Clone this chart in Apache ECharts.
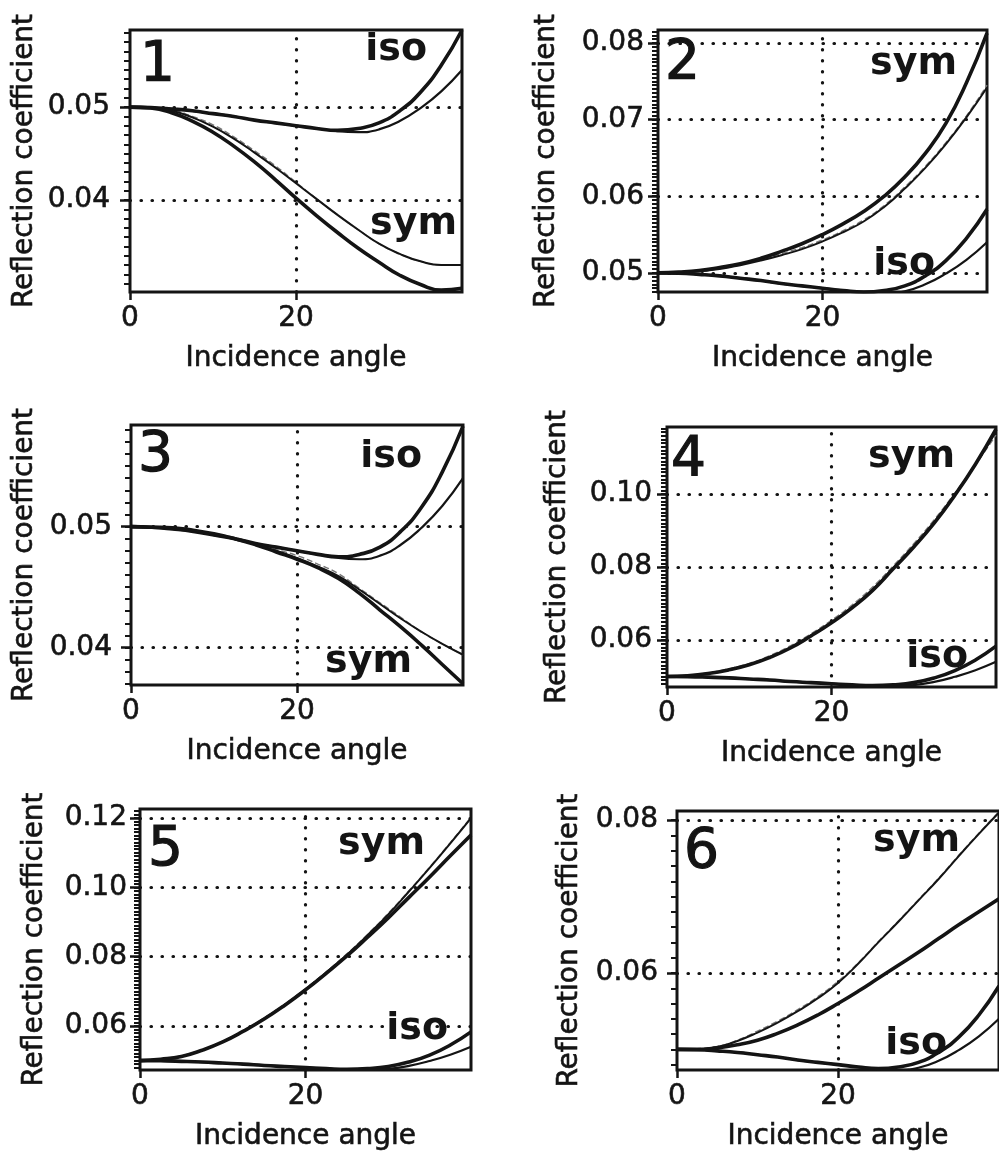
<!DOCTYPE html>
<html>
<head>
<meta charset="utf-8">
<script src="https://cdn.jsdelivr.net/npm/echarts@6/dist/echarts.min.js"></script>
<style>
  html, body { margin: 0; padding: 0; background: #fff; }
  #chart { width: 999px; height: 1155px; }
</style>
</head>
<body>
<div id="chart"></div>
<script>
// Incidence angles (degrees) at which every curve is sampled
const angles = [0, 2.5, 5, 7.5, 10, 12.5, 15, 17.5, 20, 22.5, 25, 27.5, 30, 32.5, 35, 37.5, 40];

// Isotropic reference curves (same in every panel)
const isoThick = [0.0500, 0.04995, 0.0498, 0.0496, 0.0493, 0.0490, 0.0486, 0.0483, 0.0480, 0.0477, 0.0475, 0.0477, 0.0483, 0.0496, 0.0516, 0.0545, 0.0583];
const isoThin  = [0.0500, 0.04995, 0.0498, 0.0496, 0.0493, 0.0490, 0.0486, 0.0483, 0.0480, 0.0477, 0.0474, 0.0473, 0.0476, 0.0485, 0.0499, 0.0517, 0.0540];

// Symmetry-axis curves, panel by panel
const sym1Thick = [0.0500, 0.0499, 0.0494, 0.0485, 0.0473, 0.0458, 0.0441, 0.0422, 0.0402, 0.0383, 0.0365, 0.0348, 0.0333, 0.0319, 0.0309, 0.0303, 0.0305];
const sym1Thin  = [0.0500, 0.0499, 0.0496, 0.0489, 0.0479, 0.0466, 0.0451, 0.0435, 0.0418, 0.0401, 0.0384, 0.0368, 0.0353, 0.0342, 0.0334, 0.0330, 0.0330];
const sym1Dash  = [0.0500, 0.0499, 0.0497, 0.0490, 0.0481, 0.0468, 0.0453, 0.0437, 0.0419, 0.0401, 0.0384, 0.0368, 0.0353, 0.0342, 0.0334, 0.0330, 0.0330];

const sym2Thick = [0.0500, 0.0501, 0.0503, 0.0507, 0.0512, 0.0519, 0.0528, 0.0538, 0.0550, 0.0564, 0.0580, 0.0600, 0.0625, 0.0656, 0.0695, 0.0748, 0.0813];
const sym2Thin  = [0.0500, 0.0501, 0.0502, 0.0505, 0.0510, 0.0516, 0.0523, 0.0531, 0.0541, 0.0553, 0.0567, 0.0586, 0.0610, 0.0637, 0.0668, 0.0703, 0.0742];
const sym2Dash  = [0.0500, 0.0501, 0.0502, 0.0506, 0.0511, 0.0517, 0.0525, 0.0533, 0.0543, 0.0555, 0.0569, 0.0588, 0.0612, 0.0639, 0.0670, 0.0705, 0.0745];

const sym3Thick = [0.0500, 0.04995, 0.0499, 0.0497, 0.0494, 0.0490, 0.0485, 0.0479, 0.0473, 0.0466, 0.0457, 0.0445, 0.0431, 0.0417, 0.0402, 0.0386, 0.0370];
const sym3Thin  = [0.0500, 0.04995, 0.0499, 0.0497, 0.0494, 0.0490, 0.0485, 0.0480, 0.0474, 0.0467, 0.0459, 0.0448, 0.0436, 0.0424, 0.0413, 0.0403, 0.0394];
const sym3Dash  = [0.0500, 0.04995, 0.0499, 0.0497, 0.0494, 0.0491, 0.0486, 0.0481, 0.0476, 0.0469, 0.0461, 0.0449, 0.0437, 0.0425, 0.0413, 0.0403, 0.0394];

const sym4Thick = [0.0500, 0.0502, 0.0508, 0.0518, 0.0532, 0.0552, 0.0578, 0.0611, 0.0647, 0.0688, 0.0736, 0.0795, 0.0855, 0.0921, 0.0997, 0.1082, 0.1178];
const sym4Thin  = [0.0500, 0.0502, 0.0508, 0.0519, 0.0533, 0.0553, 0.0579, 0.0612, 0.0648, 0.0690, 0.0738, 0.0797, 0.0858, 0.0924, 0.0999, 0.1081, 0.1172];
const sym4Dash  = [0.0500, 0.0503, 0.0510, 0.0521, 0.0536, 0.0557, 0.0584, 0.0617, 0.0654, 0.0696, 0.0745, 0.0803, 0.0864, 0.0930, 0.1003, 0.1080, 0.1162];

const sym5Thick = [0.0500, 0.0504, 0.0512, 0.0530, 0.0554, 0.0585, 0.0620, 0.0660, 0.0704, 0.0752, 0.0802, 0.0856, 0.0912, 0.0971, 0.1030, 0.1091, 0.1151];
const sym5Thin  = [0.0500, 0.0504, 0.0512, 0.0530, 0.0554, 0.0585, 0.0621, 0.0661, 0.0706, 0.0754, 0.0805, 0.0862, 0.0922, 0.0988, 0.1056, 0.1127, 0.1200];
const sym5Dash  = [0.0500, 0.0505, 0.0514, 0.0532, 0.0556, 0.0587, 0.0623, 0.0663, 0.0708, 0.0756, 0.0808, 0.0864, 0.0925, 0.0990, 0.1058, 0.1129, 0.1202];

const sym6Thick = [0.0500, 0.0500, 0.0502, 0.0506, 0.0512, 0.0521, 0.0532, 0.0545, 0.0560, 0.0576, 0.0593, 0.0610, 0.0627, 0.0645, 0.0663, 0.0680, 0.0697];
const sym6Thin  = [0.0500, 0.0500, 0.0503, 0.0511, 0.0522, 0.0535, 0.0550, 0.0567, 0.0587, 0.0612, 0.0640, 0.0667, 0.0695, 0.0723, 0.0753, 0.0782, 0.0810];
const sym6Dash  = [0.0500, 0.0501, 0.0504, 0.0512, 0.0524, 0.0537, 0.0552, 0.0569, 0.0589, 0.0613, 0.0641, 0.0668, 0.0696, 0.0724, 0.0754, 0.0783, 0.0811];

// Tick values
const xTickLabels = [0, 20];
const yTicks1 = [0.04, 0.05];
const yTicks2 = [0.05, 0.06, 0.07, 0.08];
const yTicks3 = [0.04, 0.05];
const yTicks4 = [0.06, 0.08, 0.10];
const yTicks5 = [0.06, 0.08, 0.10, 0.12];
const yTicks6 = [0.06, 0.08];

const INK = '#141414';
const FONT = 'DejaVu Sans';

// Panel layout and axis extents
const panels = [
  { left: 130, top: 30,  width: 332, height: 262, yMin: 0.0301, yMax: 0.0583, ticks: yTicks1, minor: 0.001,  margin: 20, nameGap: 91,
    sym: [sym1Thick, sym1Thin, sym1Dash], num: '1', numPos: [140, 85], isoPos: [427, 63], symPos: [457, 237] },
  { left: 658, top: 30,  width: 329, height: 262, yMin: 0.0475, yMax: 0.0817, ticks: yTicks2, minor: 0.0005, margin: 14, nameGap: 97,
    sym: [sym2Thick, sym2Thin, sym2Dash], num: '2', numPos: [665, 83], isoPos: [935, 277], symPos: [957, 77] },
  { left: 131, top: 425, width: 332, height: 260, yMin: 0.0369, yMax: 0.0584, ticks: yTicks3, minor: 0.001,  margin: 19, nameGap: 92,
    sym: [sym3Thick, sym3Thin, sym3Dash], num: '3', numPos: [138, 475], isoPos: [422, 470], symPos: [412, 675] },
  { left: 667, top: 427, width: 329, height: 260, yMin: 0.0471, yMax: 0.1184, ticks: yTicks4, minor: 0.001,  margin: 15, nameGap: 95,
    sym: [sym4Thick, sym4Thin, sym4Dash], num: '4', numPos: [671, 480], isoPos: [968, 670], symPos: [955, 470] },
  { left: 140, top: 809, width: 331, height: 261, yMin: 0.0473, yMax: 0.1226, ticks: yTicks5, minor: 0.001,  margin: 13, nameGap: 91,
    sym: [sym5Thick, sym5Thin, sym5Dash], num: '5', numPos: [148, 870], isoPos: [448, 1042], symPos: [425, 857] },
  { left: 677, top: 811, width: 332, height: 259, yMin: 0.0473, yMax: 0.0812, ticks: yTicks6, minor: 0.002,  margin: 19, nameGap: 93,
    sym: [sym6Thick, sym6Thin, sym6Dash], num: '6', numPos: [684, 872], isoPos: [947, 1057], symPos: [960, 854] }
];

function minorValues(min, max, step) {
  const out = [];
  for (let k = Math.ceil(min / step - 1e-6); k * step <= max + 1e-9; k++) {
    out.push(Math.round(k * step * 1e6) / 1e6);
  }
  return out;
}

const pairs = vals => angles.map((a, k) => [a, vals[k]]);

const dotted = { color: INK, width: 3.2, type: [0.5, 10.5], cap: 'round' };
// slightly heavier lettering, like the printed figure
const textFace = { fontFamily: FONT, fontSize: 28, color: INK, textBorderColor: INK, textBorderWidth: 0.6 };

const grid = [], xAxis = [], yAxis = [], series = [], graphic = [];

panels.forEach((p, i) => {
  grid.push({ left: p.left, top: p.top, width: p.width, height: p.height,
    show: true, borderColor: INK, borderWidth: 3, backgroundColor: 'transparent' });

  xAxis.push({
    type: 'value', gridIndex: i, min: 0, max: 40,
    name: 'Incidence angle', nameLocation: 'middle', nameGap: 53,
    nameTextStyle: textFace,
    axisLine: { show: false },
    axisTick: { show: true, customValues: xTickLabels, length: 8, lineStyle: { color: INK, width: 2.5 } },
    axisLabel: Object.assign({ customValues: xTickLabels, margin: 13 }, textFace),
    splitLine: { show: false }
  });

  // major ticks, labels and the axis title
  yAxis.push({
    type: 'value', gridIndex: i, min: p.yMin, max: p.yMax, position: 'left',
    name: 'Reflection coefficient', nameLocation: 'middle', nameGap: p.nameGap, nameRotate: 90,
    nameTextStyle: textFace,
    axisLine: { show: false },
    axisTick: { show: true, customValues: p.ticks, length: 10, lineStyle: { color: INK, width: 2.5 } },
    axisLabel: Object.assign({ customValues: p.ticks, margin: p.margin, formatter: v => v.toFixed(2) }, textFace),
    splitLine: { show: false }
  });
  // minor ticks
  yAxis.push({
    type: 'value', gridIndex: i, min: p.yMin, max: p.yMax, position: 'left',
    axisLine: { show: false },
    axisTick: { show: true, customValues: minorValues(p.yMin, p.yMax, p.minor), length: 6, lineStyle: { color: INK, width: 2 } },
    axisLabel: { show: false },
    splitLine: { show: false }
  });

  const base = { type: 'line', xAxisIndex: i, yAxisIndex: 2 * i, smooth: 0.5, symbol: 'none',
    clip: true, silent: true, animation: false };

  series.push(Object.assign({}, base, {
    name: 'iso ' + p.num, data: pairs(isoThick), z: 4,
    lineStyle: { color: INK, width: 3.6 },
    markLine: {
      silent: true, symbol: ['none', 'none'], label: { show: false }, animation: false,
      lineStyle: dotted,
      data: p.ticks.filter(t => t > p.yMin && t < p.yMax).map(t => ({ yAxis: t }))
        .concat([{ xAxis: 20 }])
    }
  }));
  series.push(Object.assign({}, base, { data: pairs(isoThin), z: 4, lineStyle: { color: INK, width: 2.2 } }));
  series.push(Object.assign({}, base, { data: pairs(p.sym[0]), z: 4, lineStyle: { color: INK, width: 3.6 } }));
  series.push(Object.assign({}, base, { data: pairs(p.sym[1]), z: 4, lineStyle: { color: INK, width: 2.0 } }));
  series.push(Object.assign({}, base, { data: pairs(p.sym[2]), z: 3, lineStyle: { color: '#777', width: 1.4, type: [6, 3] } }));

  graphic.push({ type: 'text', z: 100, style: { text: p.num, x: p.numPos[0], y: p.numPos[1] - 19,
    textAlign: 'left', textVerticalAlign: 'middle', fontFamily: FONT, fontSize: 55, fill: INK,
    stroke: INK, lineWidth: 1.2 } });
  graphic.push({ type: 'text', z: 100, style: { text: 'iso', x: p.isoPos[0], y: p.isoPos[1] - 13,
    textAlign: 'right', textVerticalAlign: 'middle', fontFamily: FONT, fontWeight: 'bold', fontSize: 38, fill: INK } });
  graphic.push({ type: 'text', z: 100, style: { text: 'sym', x: p.symPos[0], y: p.symPos[1] - 13,
    textAlign: 'right', textVerticalAlign: 'middle', fontFamily: FONT, fontWeight: 'bold', fontSize: 38, fill: INK } });
});

const chart = echarts.init(document.getElementById('chart'), null, { renderer: 'canvas' });
chart.setOption({
  backgroundColor: '#fff',
  animation: false,
  grid, xAxis, yAxis, series, graphic
});
</script>
</body>
</html>
